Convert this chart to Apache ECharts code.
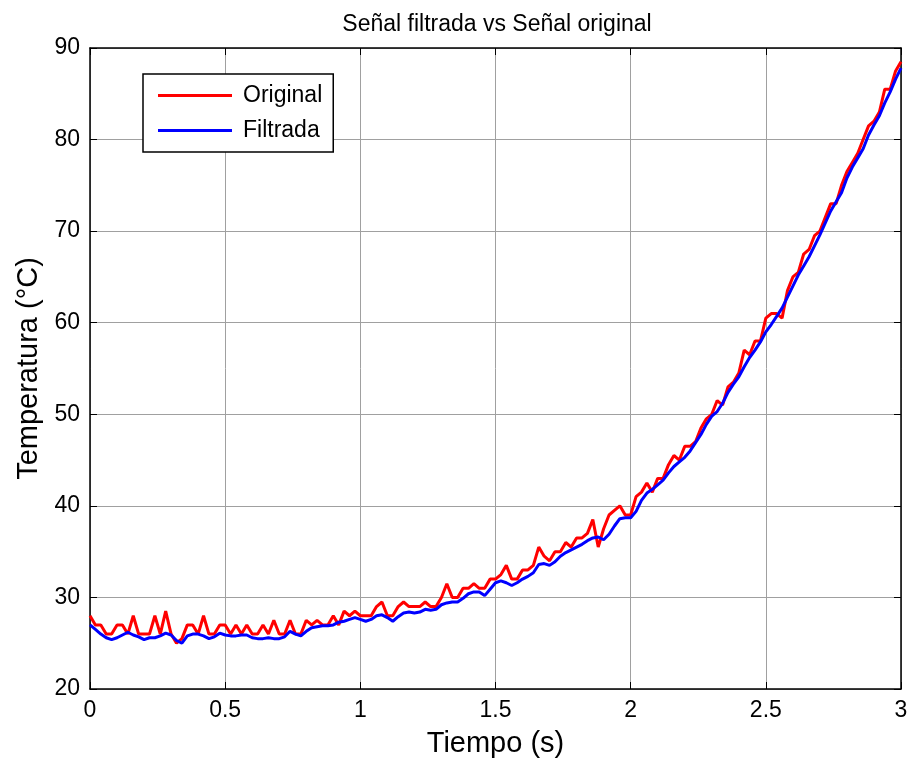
<!DOCTYPE html>
<html>
<head>
<meta charset="utf-8">
<title>Señal filtrada vs Señal original</title>
<script src="https://cdn.jsdelivr.net/npm/echarts@6/dist/echarts.min.js"></script>
<style>
  html, body { margin: 0; padding: 0; background: #fff; }
  #chart { width: 913px; height: 763px; }
</style>
</head>
<body>
<div id="chart"></div>
<script>
// Sample times (s)
const tiempo = [
  0.00, 0.02, 0.04, 0.06, 0.08, 0.10, 0.12, 0.14, 0.16, 0.18,
  0.20, 0.22, 0.24, 0.26, 0.28, 0.30, 0.32, 0.34, 0.36, 0.38,
  0.40, 0.42, 0.44, 0.46, 0.48, 0.50, 0.52, 0.54, 0.56, 0.58,
  0.60, 0.62, 0.64, 0.66, 0.68, 0.70, 0.72, 0.74, 0.76, 0.78,
  0.80, 0.82, 0.84, 0.86, 0.88, 0.90, 0.92, 0.94, 0.96, 0.98,
  1.00, 1.02, 1.04, 1.06, 1.08, 1.10, 1.12, 1.14, 1.16, 1.18,
  1.20, 1.22, 1.24, 1.26, 1.28, 1.30, 1.32, 1.34, 1.36, 1.38,
  1.40, 1.42, 1.44, 1.46, 1.48, 1.50, 1.52, 1.54, 1.56, 1.58,
  1.60, 1.62, 1.64, 1.66, 1.68, 1.70, 1.72, 1.74, 1.76, 1.78,
  1.80, 1.82, 1.84, 1.86, 1.88, 1.90, 1.92, 1.94, 1.96, 1.98,
  2.00, 2.02, 2.04, 2.06, 2.08, 2.10, 2.12, 2.14, 2.16, 2.18,
  2.20, 2.22, 2.24, 2.26, 2.28, 2.30, 2.32, 2.34, 2.36, 2.38,
  2.40, 2.42, 2.44, 2.46, 2.48, 2.50, 2.52, 2.54, 2.56, 2.58,
  2.60, 2.62, 2.64, 2.66, 2.68, 2.70, 2.72, 2.74, 2.76, 2.78,
  2.80, 2.82, 2.84, 2.86, 2.88, 2.90, 2.92, 2.94, 2.96, 2.98,
  3.00
];

// Raw sensor reading (°C)
const original = [
  28, 27, 27, 26, 26, 27, 27, 26, 28, 26,
  26, 26, 28, 26, 28.5, 26, 25, 25.5, 27, 27,
  26, 28, 26, 26, 27, 27, 26, 27, 26, 27,
  26, 26, 27, 26, 27.5, 26, 26, 27.5, 26, 26,
  27.5, 27, 27.5, 27, 27, 28, 27, 28.5, 28, 28.5,
  28, 28, 28, 29, 29.5, 28, 28, 29, 29.5, 29,
  29, 29, 29.5, 29, 29, 30, 31.5, 30, 30, 31,
  31, 31.5, 31, 31, 32, 32, 32.5, 33.5, 32, 32,
  33, 33, 33.5, 35.5, 34.5, 34, 35, 35, 36, 35.5,
  36.5, 36.5, 37, 38.5, 35.5, 37.5, 39, 39.5, 40, 39,
  39, 41, 41.5, 42.5, 41.5, 43, 43, 44.5, 45.5, 45,
  46.5, 46.5, 47, 48.5, 49.5, 50, 51.5, 51, 53, 53.5,
  54.5, 57, 56.5, 58, 58, 60.5, 61, 61, 60.5, 63.5,
  65, 65.5, 67.5, 68, 69.5, 70, 71.5, 73, 73, 75,
  76.5, 77.5, 78.5, 80, 81.5, 82, 83, 85.5, 85.5, 87.5,
  88.5
];

// Filtered reading (°C)
const filtrada = [
  27.0, 26.5, 26.0, 25.6, 25.4, 25.6, 25.9, 26.2, 25.9, 25.7,
  25.4, 25.6, 25.6, 25.8, 26.1, 25.9, 25.3, 25.0, 25.8, 26.0,
  26.0, 25.8, 25.5, 25.7, 26.1, 25.9, 25.8, 25.8, 25.9, 25.9,
  25.6, 25.5, 25.5, 25.6, 25.5, 25.5, 25.7, 26.3, 26.0, 25.8,
  26.3, 26.7, 26.8, 26.9, 26.9, 27.0, 27.3, 27.4, 27.6, 27.8,
  27.6, 27.4, 27.6, 28.0, 28.1, 27.8, 27.4, 27.9, 28.3, 28.4,
  28.3, 28.4, 28.7, 28.6, 28.7, 29.2, 29.4, 29.5, 29.5, 29.9,
  30.4, 30.6, 30.6, 30.2, 30.9, 31.6, 31.8, 31.6, 31.3, 31.6,
  32.0, 32.3, 32.7, 33.6, 33.7, 33.5, 33.9, 34.5, 34.9, 35.2,
  35.5, 35.8, 36.2, 36.5, 36.6, 36.3, 36.9, 37.8, 38.6, 38.7,
  38.7, 39.4, 40.6, 41.4, 41.8, 42.3, 42.8, 43.6, 44.3, 44.8,
  45.3, 46.0, 46.9, 47.8, 48.9, 49.8, 50.3, 51.2, 52.4, 53.3,
  54.1, 55.2, 56.2, 57.0, 57.9, 59.0, 59.8, 60.7, 61.6, 62.8,
  64.0, 65.2, 66.2, 67.2, 68.4, 69.6, 70.9, 72.2, 73.2, 74.2,
  75.8, 77.0, 78.0, 79.0, 80.5, 81.6, 82.6, 84.0, 85.2, 86.6,
  87.8
];

const xTicks = { min: 0, max: 3, interval: 0.5 };
const yTicks = { min: 20, max: 90, interval: 10 };

const FONT = '"Liberation Sans", Arial, sans-serif';

const pairs = (ys) => tiempo.map((t, i) => [t, ys[i]]);

const chart = echarts.init(document.getElementById('chart'), null, { renderer: 'canvas' });

// Top and right axes close the box and carry inward ticks only
const boxAxis = {
  axisLine: { show: true, onZero: false, lineStyle: { color: '#000', width: 1.5 } },
  axisTick: { show: true, inside: true, length: 7, lineStyle: { color: '#000', width: 1 } },
  axisLabel: { show: false },
  splitLine: { show: false }
};

chart.setOption({
  animation: false,
  backgroundColor: '#fff',
  title: {
    text: 'Señal filtrada vs Señal original',
    left: 492, top: 8, textAlign: 'center',
    textStyle: { fontFamily: FONT, fontSize: 23, fontWeight: 'normal', color: '#000' }
  },
  grid: { left: 90, right: 12, top: 48, bottom: 74, containLabel: false },
  legend: {
    left: 143, top: 74,
    orient: 'vertical',
    backgroundColor: '#fff',
    borderColor: '#000', borderWidth: 1.5,
    padding: [10, 11, 10, 15],
    itemGap: 12,
    itemWidth: 74, itemHeight: 3,
    icon: 'rect',
    textStyle: { fontFamily: FONT, fontSize: 23, color: '#000', padding: [0, 0, 0, 6] },
    data: ['Original', 'Filtrada']
  },
  xAxis: [
    {
      type: 'value', ...xTicks, position: 'bottom',
      name: 'Tiempo (s)', nameLocation: 'middle', nameGap: 40,
      nameTextStyle: { fontFamily: FONT, fontSize: 29, color: '#000' },
      axisLine: { show: true, onZero: false, lineStyle: { color: '#000', width: 1.5 } },
      axisTick: { show: true, inside: true, length: 7, lineStyle: { color: '#000' } },
      axisLabel: { fontFamily: FONT, fontSize: 23, color: '#000', margin: 10 },
      splitLine: { show: true, lineStyle: { color: '#a0a0a0', width: 1 } }
    },
    { type: 'value', ...xTicks, position: 'top', ...boxAxis }
  ],
  yAxis: [
    {
      type: 'value', ...yTicks, position: 'left',
      name: 'Temperatura (°C)', nameLocation: 'middle', nameGap: 47,
      nameTextStyle: { fontFamily: FONT, fontSize: 29, color: '#000' },
      axisLine: { show: true, onZero: false, lineStyle: { color: '#000', width: 1.5 } },
      axisTick: { show: true, inside: true, length: 7, lineStyle: { color: '#000' } },
      axisLabel: { fontFamily: FONT, fontSize: 23, color: '#000', margin: 10 },
      splitLine: { show: true, lineStyle: { color: '#a0a0a0', width: 1 } }
    },
    { type: 'value', ...yTicks, position: 'right', ...boxAxis }
  ],
  series: [
    {
      name: 'Original', type: 'line', data: pairs(original),
      showSymbol: false, symbol: 'none',
      lineStyle: { color: '#ff0000', width: 3 },
      itemStyle: { color: '#ff0000' },
      z: 2
    },
    {
      name: 'Filtrada', type: 'line', data: pairs(filtrada),
      showSymbol: false, symbol: 'none',
      lineStyle: { color: '#0000ff', width: 3 },
      itemStyle: { color: '#0000ff' },
      z: 3
    }
  ]
});
</script>
</body>
</html>
